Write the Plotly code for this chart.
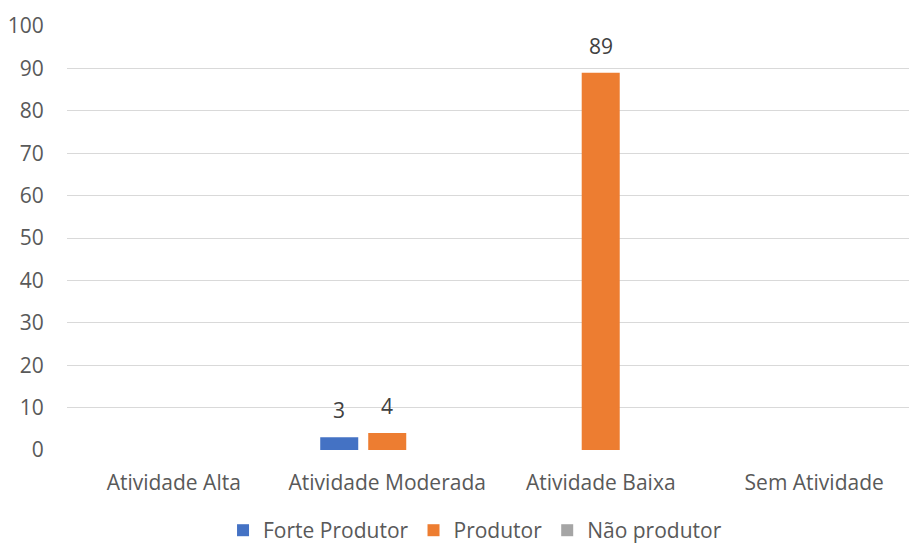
import plotly.graph_objects as go

categories = ["Atividade Alta", "Atividade Moderada", "Atividade Baixa", "Sem Atividade"]
forte_produtor = [0, 3, 0, 0]
produtor = [0, 4, 89, 0]
nao_produtor = [0, 0, 0, 0]
y_ticks = [0, 10, 20, 30, 40, 50, 60, 70, 80, 90, 100]

series = [
    ("Forte Produtor", forte_produtor, "#4472C4"),
    ("Produtor", produtor, "#ED7D31"),
    ("Não produtor", nao_produtor, "#A5A5A5"),
]

FONT = "Open Sans"
SIZE = 21
BAR_STEP_PX = 48  # horizontal distance between neighbouring bars in a group

fig = go.Figure()
annotations = []
for i, (name, values, color) in enumerate(series):
    fig.add_trace(go.Bar(
        name=name,
        x=categories,
        y=values,
        marker=dict(color=color, line=dict(width=0)),
    ))
    # value labels floating above each non-zero bar
    for cat, v in zip(categories, values):
        if v:
            annotations.append(dict(
                x=cat, y=v, xref="x", yref="y",
                text=str(v), showarrow=False,
                xshift=(i - 1) * BAR_STEP_PX, yshift=27,
                yanchor="middle",
                font=dict(family=FONT, size=SIZE, color="#404040"),
            ))

fig.update_layout(
    width=909,
    height=545,
    margin=dict(l=67, r=0, t=26, b=95, autoexpand=False),
    paper_bgcolor="white",
    plot_bgcolor="white",
    barmode="group",
    bargap=0.3255,
    bargroupgap=0.208,
    font=dict(family=FONT, size=SIZE, color="#595959"),
    annotations=annotations,
    xaxis=dict(
        range=[-0.5, 3.444],
        showgrid=False,
        showline=False,
        zeroline=False,
        ticks="outside",
        ticklen=14,
        tickcolor="rgba(0,0,0,0)",
        automargin=False,
        tickfont=dict(family=FONT, size=SIZE, color="#595959"),
    ),
    yaxis=dict(
        range=[0, 100],
        tickvals=y_ticks,
        showgrid=True,
        gridcolor="#D9D9D9",
        gridwidth=1.3,
        zeroline=False,
        showline=False,
        ticks="outside",
        ticklen=18,
        tickcolor="rgba(0,0,0,0)",
        automargin=False,
        tickfont=dict(family=FONT, size=SIZE, color="#595959"),
    ),
    legend=dict(
        orientation="h",
        x=0.4846,
        xanchor="center",
        y=-0.19,
        yanchor="middle",
        borderwidth=0,
        font=dict(family=FONT, size=SIZE, color="#595959"),
        itemwidth=30,
        traceorder="normal",
    ),
    showlegend=True,
)

fig.write_html("out.html")
